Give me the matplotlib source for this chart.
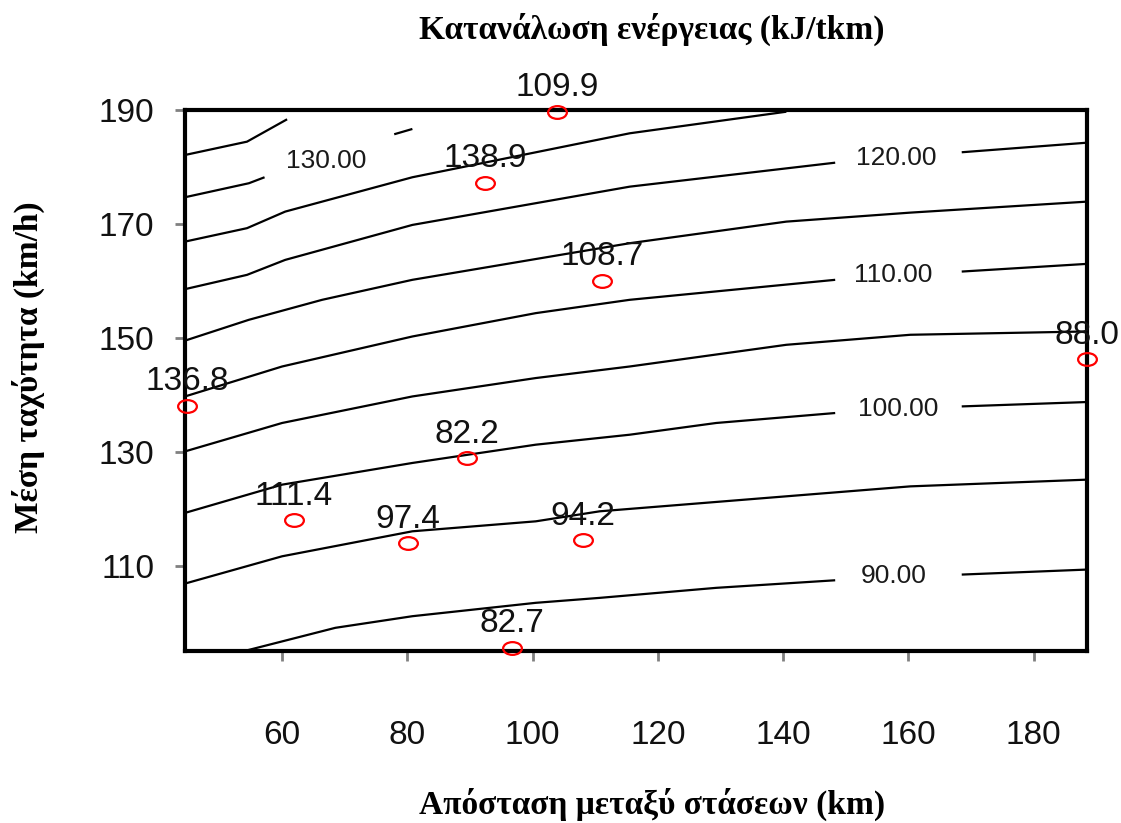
import matplotlib
matplotlib.use("Agg")
import matplotlib.pyplot as plt
from matplotlib.path import Path
from matplotlib.transforms import Affine2D

# ---------------- data ----------------
x_ticks = [60, 80, 100, 120, 140, 160, 180]
y_ticks = [110, 130, 150, 170, 190]
x_limits = (44.5, 188.5)
y_limits = (95.0, 190.0)

# contour lines, one list of (x, y) segments per level (gaps = label breaks)
contour_90 = [([54.0, 68.5, 80.8, 100.5, 110.7, 129.3, 148.3],
               [95.0, 99.07, 101.11, 103.46, 104.33, 106.09, 107.42]),
              ([168.5, 188.5], [108.42, 109.30])]
contour_95 = [([44.5, 60.0, 80.8, 100.5, 110.7, 137.3, 160.3, 188.5],
               [106.84, 111.63, 116.02, 117.77, 119.53, 121.88, 123.91, 125.09])]
contour_100 = [([44.5, 60.0, 80.8, 100.5, 115.5, 129.3, 148.3],
                [119.25, 124.21, 128.02, 131.23, 132.98, 135.04, 136.79]),
               ([168.5, 188.5], [137.95, 138.72])]
contour_105 = [([44.5, 60.0, 80.8, 100.5, 115.5, 140.5, 160.3, 188.5],
                [130.05, 135.04, 139.70, 142.93, 144.96, 148.77, 150.53, 151.11])]
contour_110 = [([44.5, 60.0, 80.8, 100.5, 115.5, 148.3],
                [139.70, 144.96, 150.23, 154.33, 156.67, 160.18]),
               ([168.5, 188.5], [161.63, 162.98])]
contour_115 = [([44.5, 54.7, 66.4, 80.8, 115.5, 140.5, 160.3, 188.5],
                [149.5, 153.16, 156.67, 160.18, 166.61, 170.40, 171.98, 173.91])]
contour_120 = [([44.5, 54.4, 60.5, 80.8, 115.5, 148.3],
                [158.54, 161.05, 163.68, 169.82, 176.54, 180.75]),
               ([168.5, 188.5], [182.58, 184.26])]
contour_125 = [([44.5, 54.4, 60.5, 80.8, 115.5, 140.5],
                [166.89, 169.25, 172.16, 178.19, 185.91, 189.7])]
contour_130 = [([44.5, 54.7, 57.2], [174.68, 177.14, 178.19]),
               ([77.9, 80.8], [185.74, 186.67])]
contour_135 = [([44.5, 54.4, 60.8], [182.1, 184.44, 188.37])]

contour_lines = [contour_90, contour_95, contour_100, contour_105, contour_110,
                 contour_115, contour_120, contour_125, contour_130, contour_135]

# labelled contour levels
label_levels = [90, 100, 110, 120, 130]
label_x = [157.6, 158.3, 157.6, 158.1, 67.0]
label_y = [108.25, 137.49, 161.05, 181.53, 181.05]

# measured points
point_x = [103.9, 92.43, 111.1, 188.5, 44.8, 89.5, 61.87, 80.11, 108.0, 96.64]
point_y = [189.7, 177.25, 160.05, 146.26, 138.07, 128.89, 117.95, 113.98, 114.44, 95.56]
point_values = [109.9, 138.9, 108.7, 88.0, 136.8, 82.2, 111.4, 97.4, 94.2, 82.7]

title_text = "Κατανάλωση ενέργειας (kJ/tkm)"
xlabel_text = "Απόσταση μεταξύ στάσεων (km)"
ylabel_text = "Μέση ταχύτητα (km/h)"

# ---------------- figure ----------------
W, H, DPI = 1121, 823, 100
fig = plt.figure(figsize=(W / DPI, H / DPI), dpi=DPI)
ax = fig.add_axes([185 / W, 1 - 651 / H, (1087 - 185) / W, (651 - 110) / H])

ax.set_xlim(*x_limits)
ax.set_ylim(*y_limits)

for level_segments in contour_lines:
    for xs, ys in level_segments:
        ax.plot(xs, ys, color="black", lw=1.6, solid_capstyle="butt",
                solid_joinstyle="round", zorder=2)

for lev, lx, ly in zip(label_levels, label_x, label_y):
    ax.text(lx, ly, f"{lev:.2f}", ha="center", va="center",
            fontsize=19, family="Liberation Sans", color="#1a1a1a", zorder=3)

ellipse = Path.unit_circle().transformed(Affine2D().scale(1.0, 0.68))
ax.plot(point_x, point_y, linestyle="none", marker=ellipse, markersize=13.5,
        markerfacecolor="none", markeredgecolor="red", markeredgewidth=1.6,
        clip_on=False, zorder=4)
for px, py, v in zip(point_x, point_y, point_values):
    ax.annotate(f"{v:.1f}", (px, py), xytext=(0, 6), textcoords="offset points",
                ha="center", va="bottom", fontsize=24, family="Liberation Sans",
                color="#111111", annotation_clip=False, zorder=5)

for sp in ax.spines.values():
    sp.set_linewidth(3)
    sp.set_color("black")

ax.set_xticks(x_ticks)
ax.set_yticks(y_ticks)
ax.tick_params(axis="both", direction="out", length=7, width=2, color="#808080",
               labelsize=24, labelcolor="#111111")
ax.tick_params(axis="x", pad=43)
ax.tick_params(axis="y", pad=15)
for lbl in ax.get_xticklabels() + ax.get_yticklabels():
    lbl.set_family("Liberation Sans")

fig.text(652 / W, 1 - 29 / H, title_text, ha="center", va="center",
         fontsize=24, fontweight="bold", family="Liberation Serif")
fig.text(652 / W, 1 - 804 / H, xlabel_text, ha="center", va="center",
         fontsize=24, fontweight="bold", family="Liberation Serif")
fig.text(28 / W, 1 - 367 / H, ylabel_text, ha="center", va="center", rotation=90,
         fontsize=24, fontweight="bold", family="Liberation Serif")

fig.savefig("out.png", dpi=DPI)
